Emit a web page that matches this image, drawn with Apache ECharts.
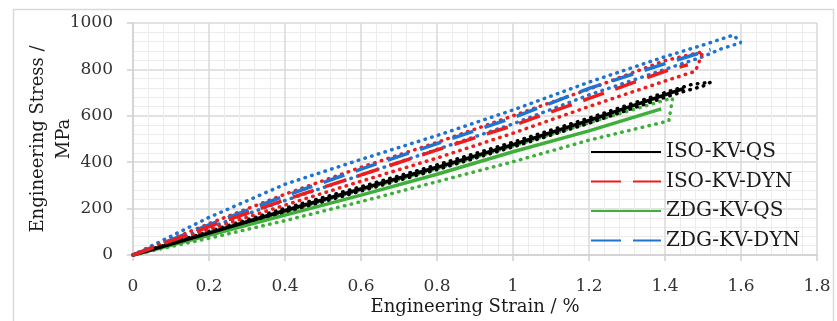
<!DOCTYPE html>
<html>
<head>
<meta charset="utf-8">
<script src="https://cdn.jsdelivr.net/npm/echarts@6/dist/echarts.min.js"></script>
<style>
  html, body { margin: 0; padding: 0; background: #fff; }
  #chart { width: 837px; height: 321px; }
</style>
</head>
<body>
<div id="chart"></div>
<script>
// [strain %, stress MPa]
const isoQsMean = [[0, 0], [0.2, 95], [0.4, 192], [0.6, 285], [0.8, 378], [1.0, 476], [1.2, 580], [1.4, 690], [1.45, 718]];
const isoQsBand = [[0, 0], [0.2, 88], [0.4, 183], [0.6, 276], [0.8, 368], [1.0, 466], [1.2, 568], [1.4, 680], [1.45, 705], [1.5, 728], [1.52, 745],
  [1.47, 735], [1.4, 700], [1.2, 590], [1.0, 486], [0.8, 388], [0.6, 294], [0.4, 201], [0.2, 102], [0, 0]];

const isoDynMean = [[0, 0], [0.2, 122], [0.4, 238], [0.6, 345], [0.8, 453], [1.0, 558], [1.2, 675], [1.4, 792], [1.46, 820]];
const isoDynBand = [[0, 0], [0.2, 110], [0.4, 215], [0.6, 318], [0.8, 418], [1.0, 525], [1.2, 640], [1.4, 750], [1.48, 792], [1.5, 876],
  [1.4, 838], [1.2, 715], [1.0, 600], [0.8, 485], [0.6, 378], [0.4, 262], [0.2, 135], [0, 0]];

const zdgQsMean = [[0, 0], [0.2, 85], [0.4, 172], [0.6, 258], [0.8, 348], [1.0, 445], [1.2, 535], [1.39, 630]];
const zdgQsBand = [[0, 0], [0.2, 72], [0.4, 148], [0.6, 230], [0.8, 316], [1.0, 402], [1.2, 495], [1.41, 578], [1.42, 675],
  [1.4, 668], [1.2, 570], [1.0, 470], [0.8, 372], [0.6, 280], [0.4, 187], [0.2, 92], [0, 0]];

const zdgDynMean = [[0, 0], [0.2, 130], [0.4, 255], [0.6, 370], [0.8, 480], [1.0, 592], [1.2, 718], [1.4, 825], [1.52, 885]];
const zdgDynBand = [[0, 0], [0.2, 118], [0.4, 235], [0.6, 345], [0.8, 455], [1.0, 565], [1.2, 690], [1.4, 800], [1.5, 855], [1.55, 890], [1.6, 915],
  [1.58, 948], [1.5, 905], [1.4, 855], [1.2, 745], [1.0, 625], [0.8, 515], [0.6, 412], [0.4, 305], [0.2, 162], [0, 0]];

const seriesNames = ['ISO-KV-QS', 'ISO-KV-DYN', 'ZDG-KV-QS', 'ZDG-KV-DYN'];

const black = '#000000';
const red = '#ee1c1c';
const green = '#3fae3a';
const blue = '#1f74d0';
const serif = 'DejaVu Serif';
const dash = [22, 12];
const dots = [0.5, 6.5];

function band(data, color) {
  return {
    type: 'line',
    data: data,
    symbol: 'none',
    silent: true,
    lineStyle: { color: color, width: 3.5, type: dots, cap: 'round' },
    z: 2,
  };
}

function mean(name, data, color, type) {
  return {
    name: name,
    type: 'line',
    data: data,
    symbol: 'none',
    itemStyle: { color: color },
    lineStyle: { color: color, width: 3.5, type: type },
    z: 3,
  };
}

const myChart = echarts.init(document.getElementById('chart'));
const option = {
  animation: false,
  backgroundColor: '#fff',
  grid: { left: 133, right: 20, top: 23, bottom: 66 },
  graphic: [
    {
      type: 'rect',
      shape: { x: 13.5, y: 9.5, width: 820, height: 330 },
      style: { fill: 'none', stroke: '#d9d9d9', lineWidth: 1.5 },
      silent: true,
    },
  ],
  legend: {
    orient: 'vertical',
    left: 585,
    top: 137,
    itemWidth: 70,
    itemHeight: 0.4,
    itemGap: 9.5,
    textStyle: { fontFamily: serif, fontSize: 20, color: '#1a1a1a' },
    data: [
      { name: seriesNames[0] },
      { name: seriesNames[1], lineStyle: { type: [30, 12] } },
      { name: seriesNames[2] },
      { name: seriesNames[3], lineStyle: { type: [30, 12] } },
    ],
  },
  xAxis: {
    type: 'value',
    min: 0,
    max: 1.8,
    interval: 0.2,
    name: 'Engineering Strain / %',
    nameLocation: 'middle',
    nameGap: 43,
    nameMoveOverlap: false,
    nameTextStyle: { fontFamily: serif, fontSize: 18, color: '#1a1a1a' },
    axisLine: { lineStyle: { color: '#d0d0d0', width: 1.5 } },
    axisTick: { show: true, length: 6, lineStyle: { color: '#d0d0d0', width: 1.5 } },
    axisLabel: { margin: 23, fontFamily: serif, fontSize: 17, color: '#333' },
    splitLine: { lineStyle: { color: '#d9d9d9', width: 1.5 } },
    minorTick: { show: false, splitNumber: 5 },
    minorSplitLine: { show: true, lineStyle: { color: '#ececec', width: 1 } },
  },
  yAxis: {
    type: 'value',
    min: 0,
    max: 1000,
    interval: 200,
    name: 'Engineering Stress /\nMPa',
    nameLocation: 'middle',
    nameRotate: 90,
    nameGap: 56,
    nameMoveOverlap: false,
    nameTextStyle: { fontFamily: serif, fontSize: 18, lineHeight: 26, color: '#1a1a1a' },
    axisLine: { show: true, lineStyle: { color: '#d0d0d0', width: 1.5 } },
    axisTick: { show: true, length: 6, lineStyle: { color: '#d0d0d0', width: 1.5 } },
    axisLabel: { margin: 20, fontFamily: serif, fontSize: 17, color: '#333', formatter: (v) => String(v) },
    splitLine: { lineStyle: { color: '#d9d9d9', width: 1.5 } },
    minorTick: { show: false, splitNumber: 5 },
    minorSplitLine: { show: true, lineStyle: { color: '#ececec', width: 1 } },
  },
  series: [
    band(zdgQsBand, green),
    band(isoQsBand, black),
    band(zdgDynBand, blue),
    band(isoDynBand, red),
    mean(seriesNames[2], zdgQsMean, green, 'solid'),
    mean(seriesNames[0], isoQsMean, black, 'solid'),
    mean(seriesNames[3], zdgDynMean, blue, dash),
    mean(seriesNames[1], isoDynMean, red, dash),
  ],
};

option && myChart.setOption(option);
</script>
</body>
</html>
